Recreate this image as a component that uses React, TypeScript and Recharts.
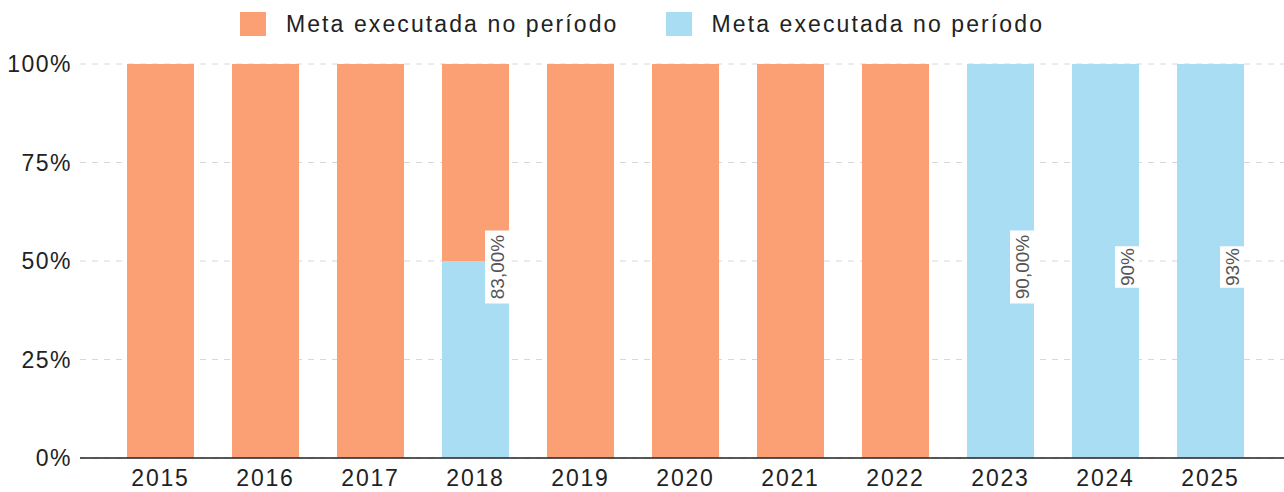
import { Bar, BarChart, CartesianGrid, LabelList, Legend, XAxis, YAxis } from "recharts";

document.body.style.margin = "0";

const years = ["2015", "2016", "2017", "2018", "2019", "2020", "2021", "2022", "2023", "2024", "2025"];
const blueValues = [0, 0, 0, 50, 0, 0, 0, 0, 100, 100, 100];
const orangeValues = [100, 100, 100, 50, 100, 100, 100, 100, 0, 0, 0];
const barLabels = ["", "", "", "83,00%", "", "", "", "", "90,00%", "90%", "93%"];
const yTicks = [0, 25, 50, 75, 100];

const seriesName = "Meta executada no período";
const ORANGE = "#fb9f74";
const BLUE = "#a9ddf3";
const FONT = "'Liberation Sans', Arial, sans-serif";

const data = years.map((year, i) => ({
  year,
  blue: blueValues[i],
  orange: orangeValues[i],
  label: barLabels[i],
}));

function LegendBox() {
  const items = [ORANGE, BLUE];
  return (
    <div
      style={{
        height: 48,
        position: "relative",
        top: -16,
        display: "flex",
        justifyContent: "center",
        alignItems: "center",
        gap: 47,
        fontFamily: FONT,
        fontSize: 23,
        letterSpacing: 2.1,
        color: "#222",
      }}
    >
      {items.map((c) => (
        <div key={c} style={{ display: "flex", alignItems: "center", gap: 20 }}>
          <span style={{ width: 26, height: 24, background: c, display: "inline-block" }} />
          <span>{seriesName}</span>
        </div>
      ))}
    </div>
  );
}

// label centred on the full bar, pushed against the right edge
// (label list index skips empty bars, so the row is found by its text)
function SideLabel(props: any) {
  const { x, y, width, height, value } = props;
  const row = data.find((d) => d.label && d.label === value);
  if (!row || !row.blue) return null;
  const full = (height * 100) / row.blue;
  const cy = y + height - full / 2 + 6;
  const cx = x + width - 12;
  const boxH = row.label.length * 10.5 + 10;
  return (
    <g>
      <rect x={cx - 12} y={cy - boxH / 2} width={24} height={boxH} fill="#fff" />
      <text
        x={cx}
        y={cy}
        transform={`rotate(-90 ${cx} ${cy})`}
        textAnchor="middle"
        dominantBaseline="central"
        fontFamily={FONT}
        fontSize={19}
        fill="#555"
      >
        {row.label}
      </text>
    </g>
  );
}

export default function App() {
  return (
    <div style={{ width: 1284, height: 492, background: "#fff" }}>
      <BarChart
        width={1284}
        height={492}
        data={data}
        margin={{ top: 16, right: 0, left: 0, bottom: 0 }}
        barSize={67}
      >
        <CartesianGrid vertical={false} strokeDasharray="6 6" stroke="#d8d8d8" />
        <Legend verticalAlign="top" content={() => <LegendBox />} />
        <XAxis
          dataKey="year"
          height={34}
          padding={{ left: 28, right: 21 }}
          tickLine={false}
          tickMargin={6}
          axisLine={{ stroke: "#222", strokeWidth: 1.5 }}
          tick={{ fill: "#222", fontSize: 23, fontFamily: FONT, letterSpacing: 1.8 }}
        />
        <YAxis
          width={80}
          domain={[0, 100]}
          ticks={yTicks}
          tickFormatter={(v) => `${v}%`}
          tickLine={false}
          axisLine={false}
          tick={{ fill: "#222", fontSize: 23, fontFamily: FONT, letterSpacing: 1.5 }}
        />
        <Bar dataKey="blue" stackId="a" fill={BLUE} name={seriesName} isAnimationActive={false}>
          <LabelList dataKey="label" content={SideLabel} />
        </Bar>
        <Bar dataKey="orange" stackId="a" fill={ORANGE} name={seriesName} isAnimationActive={false} />
      </BarChart>
    </div>
  );
}
